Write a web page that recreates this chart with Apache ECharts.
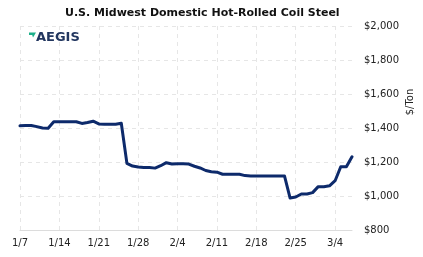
<!DOCTYPE html>
<html>
<head>
<meta charset="utf-8">
<script src="https://cdn.jsdelivr.net/npm/echarts@6/dist/echarts.min.js"></script>
<style>
html,body{margin:0;padding:0;background:#fff;}
#chart{width:423px;height:257px;}
</style>
</head>
<body>
<div id="chart"></div>
<script>
var titleText = 'U.S. Midwest Domestic Hot-Rolled Coil Steel';
var unitLabel = '$/Ton';
var dates = [
  '1/7','1/8','1/9','1/10','1/11','1/12','1/13','1/14','1/15','1/16','1/17','1/18','1/19','1/20','1/21','1/22','1/23','1/24','1/25','1/26','1/27','1/28','1/29','1/30','1/31',
  '2/1','2/2','2/3','2/4','2/5','2/6','2/7','2/8','2/9','2/10','2/11','2/12','2/13','2/14','2/15','2/16','2/17','2/18','2/19','2/20','2/21','2/22','2/23','2/24','2/25','2/26','2/27','2/28',
  '3/1','3/2','3/3','3/4','3/5','3/6','3/7'
];
var prices = [
  1413,1415,1415,1408,1400,1398,1437,1437,1437,1437,1437,1427,1432,1440,1424,1422,1422,1422,1428,1192,1176,1170,1168,1167,1164,
  1178,1196,1188,1190,1190,1188,1175,1165,1150,1143,1140,1128,1128,1128,1128,1120,1118,1118,1118,1118,1118,1118,1118,988,994,1012,1012,1020,
  1055,1055,1060,1090,1172,1172,1231
];
var yMin = 800, yMax = 2000, yStep = 200;

var chart = echarts.init(document.getElementById('chart'), null, {renderer:'canvas'});
var font = 'DejaVu Sans';
chart.setOption({
  animation:false,
  backgroundColor:'#ffffff',
  title:{
    text:titleText, left:60, top:3,
    textStyle:{fontFamily:font, fontSize:11, fontWeight:'bold', color:'#111'}
  },
  grid:{left:20, right:71, top:26, bottom:27, containLabel:false},
  xAxis:{
    type:'category', data:dates, boundaryGap:false,
    axisLine:{show:true, lineStyle:{color:'#dcdcdc', width:1}},
    axisTick:{show:false},
    axisLabel:{interval:6, fontFamily:font, fontSize:10, color:'#222', margin:8},
    splitLine:{show:true, interval:6, lineStyle:{color:'#e6e6e6', type:[4,4], width:1}}
  },
  yAxis:{
    type:'value', position:'right', min:yMin, max:yMax, interval:yStep,
    axisLine:{show:false}, axisTick:{show:false},
    axisLabel:{fontFamily:font, fontSize:10, color:'#222', margin:12,
      formatter:function(v){return '$' + v.toLocaleString('en-US');}},
    splitLine:{show:true, lineStyle:{color:'#e6e6e6', type:[4,4], width:1}}
  },
  graphic:[
    {type:'text', x:410, y:102, rotation:Math.PI/2,
      style:{text:unitLabel, font:'10px "DejaVu Sans"', fill:'#222', textAlign:'center', textVerticalAlign:'middle'}},
    {type:'polygon', shape:{points:[[29,32.5],[36,32.5],[33,37.5],[32.2,35],[29,35]]}, style:{fill:'#1db08a'}},
    {type:'text', x:36, y:37.5,
      style:{text:'AEGIS', font:'bold 13px "DejaVu Sans"', fill:'#22365f', textAlign:'left', textVerticalAlign:'middle'}}
  ],
  series:[{
    type:'line', data:prices, showSymbol:false, smooth:false,
    lineStyle:{color:'#0d2a6b', width:3, join:'round', cap:'round'},
    itemStyle:{color:'#0d2a6b'}
  }]
});
</script>
</body>
</html>
